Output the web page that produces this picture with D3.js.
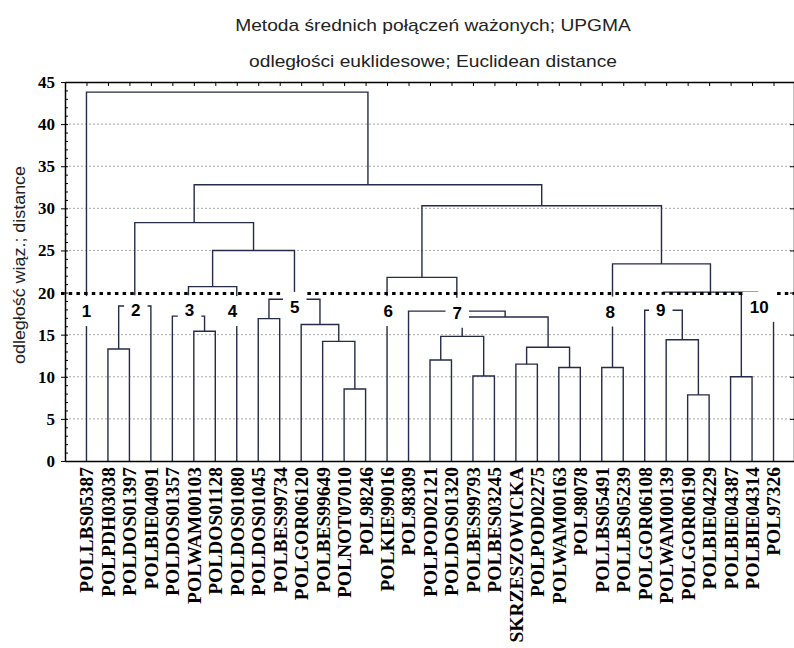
<!DOCTYPE html>
<html><head><meta charset="utf-8">
<script src="https://cdn.jsdelivr.net/npm/d3@7"></script>
<style>body{margin:0;background:#fff;} svg{display:block;}</style>
</head><body>
<svg id="chart" width="794" height="648"></svg>
<script>
// ---- data ----
const leafNames = ["POLLBS05387","POLPDH03038","POLDOS01397","POLBIE04091","POLDOS01357","POLWAM00103",
  "POLDOS01128","POLDOS01080","POLDOS01045","POLBES99734","POLGOR06120","POLBES99649","POLNOT07010",
  "POL98246","POLKIE99016","POL98309","POLPOD02121","POLDOS01320","POLBES99793","POLBES03245",
  "SKRZESZOWICKA","POLPOD02275","POLWAM00163","POL98078","POLLBS05491","POLLBS05239","POLGOR06108",
  "POLWAM00139","POLGOR06190","POLBIE04229","POLBIE04387","POLBIE04314","POL97326"];
// merges: ids 0..32 are leaves, id 33+k is the cluster made by merge k
const mergeLeft  = [28,12,30,18,22,24,20,16, 1,39,11,27,40, 5,10, 8,45, 4,15,26,41,48,35,52,50,14,57,38,53,58,61, 0];
const mergeRight = [29,13,31,19,23,25,21,17, 2,37,34,33,36, 6,43, 9,42,46,49,44, 3,47,32,55, 7,51,54,56,59,60,62,63];
const mergeHeight = [7.85,8.55,10.0,10.1,11.1,11.1,11.5,12.0,13.3,13.5,14.2,14.4,14.8,15.4,16.2,16.9,17.1,17.2,
  17.8,17.9,18.4,19.2,19.8,20.05,20.7,21.8,25.0,23.4,28.3,30.3,32.8,43.8];
const yTicks = [0,5,10,15,20,25,30,35,40,45];
const cutHeight = 20;
const clusterNames = ["1","2","3","4","5","6","7","8","9","10"];
const clusterAt    = [0, 2.3, 4.8, 6.8, 9.7, 14.05, 17.27, 24.4, 26.75, 31.33];
const clusterLevel = [17.8, 17.9, 17.9, 17.8, 18.3, 17.8, 17.6, 17.75, 17.95, 18.3];
const titleLines = ["Metoda średnich połączeń ważonych; UPGMA", "odległości euklidesowe; Euclidean distance"];
const yTitle = "odległość wiąz.; distance";

// ---- layout ----
const svg = d3.select("#chart");
const L = 65, R = 795, T = 82, B = 461;
const n = leafNames.length;
const x = d3.scalePoint().domain(d3.range(n)).range([L, R]).padding(1);
const xi = d3.scaleLinear().domain([0, n - 1]).range([x(0), x(n - 1)]);
const y = d3.scaleLinear().domain([0, 45]).range([B, T]);
const lineColor = "#262b4a";

// titles
svg.selectAll("text.title").data(titleLines).join("text")
  .attr("class", "title")
  .attr("transform", (d, i) => `translate(433,${30.5 + i * 36.5}) scale(1.2,1)`)
  .attr("text-anchor", "middle")
  .attr("font-family", "Liberation Sans, Arial, sans-serif")
  .attr("font-size", 16).attr("fill", "#222")
  .text(d => d);

// y title
svg.append("text")
  .attr("transform", `translate(25,265) rotate(-90) scale(1.12,1)`)
  .attr("text-anchor", "middle")
  .attr("font-family", "Liberation Sans, Arial, sans-serif")
  .attr("font-size", 16).attr("fill", "#222")
  .text(yTitle);

// gridlines
svg.append("g").selectAll("line").data(yTicks.filter(v => v > 0 && v < 45 && v !== cutHeight)).join("line")
  .attr("x1", L).attr("x2", R).attr("y1", d => y(d)).attr("y2", d => y(d))
  .attr("stroke", "#a8a8a8").attr("stroke-width", 1).attr("stroke-dasharray", "2,2");

// dendrogram
const nodeX = d3.range(n).map(i => x(i));
const nodeH = d3.range(n).map(() => 0);
const g = svg.append("g");
mergeHeight.forEach((h, k) => {
  const a = mergeLeft[k], b = mergeRight[k];
  const xa = nodeX[a], xb = nodeX[b];
  g.append("path")
    .attr("d", `M${xa},${y(nodeH[a])}V${y(h)}H${xb}V${y(nodeH[b])}`)
    .attr("fill", "none").attr("stroke", lineColor).attr("stroke-width", 1.4);
  nodeX.push((xa + xb) / 2);
  nodeH.push(h);
});

// cut line
svg.append("line")
  .attr("x1", L - 4).attr("x2", R).attr("y1", y(cutHeight) + 1).attr("y2", y(cutHeight) + 1)
  .attr("stroke", "#000").attr("stroke-width", 3).attr("stroke-dasharray", "3.5,4.2");

// axes
const axL = svg.append("g").attr("transform", `translate(${L},0)`)
  .call(d3.axisLeft(y).tickValues(yTicks).tickSize(4).tickSizeOuter(0));
axL.select(".domain").attr("stroke", "#000").attr("stroke-width", 1.5);
axL.selectAll("text").attr("x", -10)
  .attr("font-family", "Liberation Serif, Times New Roman, serif")
  .attr("font-weight", "bold").attr("font-size", 17).attr("fill", "#000");
svg.append("g").attr("transform", `translate(${L},0)`)
  .call(d3.axisRight(y).ticks(45).tickSize(3).tickSizeOuter(0).tickFormat(""))
  .select(".domain").remove();
const axR = svg.append("g").attr("transform", `translate(${R - 1},0)`)
  .call(d3.axisLeft(y).tickValues(yTicks).tickSize(4).tickSizeOuter(0).tickFormat(""));
axR.select(".domain").attr("stroke-width", 1.5);
const axT = svg.append("g").attr("transform", `translate(0,${T})`)
  .call(d3.axisBottom(x).tickSize(4).tickSizeOuter(0).tickFormat(""));
axT.select(".domain").attr("stroke-width", 1.5);
const axB = svg.append("g").attr("transform", `translate(0,${B})`)
  .call(d3.axisBottom(x).tickSize(0).tickSizeOuter(0).tickFormat(i => leafNames[i]));
axB.select(".domain").attr("stroke-width", 1.5);
axB.selectAll("text")
  .attr("transform", "rotate(-90)")
  .attr("x", -6).attr("y", 0).attr("dy", "0.33em")
  .attr("text-anchor", "end")
  .attr("font-family", "Liberation Serif, Times New Roman, serif")
  .attr("font-weight", "bold").attr("font-size", 19.5).attr("fill", "#000");

// cluster labels
const cl = svg.append("g").selectAll("g").data(clusterNames).join("g")
  .attr("transform", (d, i) => `translate(${xi(clusterAt[i])},${y(clusterLevel[i])})`);
cl.append("rect").attr("fill", "#fff");
cl.append("text")
  .attr("text-anchor", "middle").attr("dy", "0.36em")
  .attr("font-family", "Liberation Sans, Arial, sans-serif")
  .attr("font-weight", "bold").attr("font-size", 17).attr("fill", "#000")
  .text(d => d);
cl.each(function () {
  const t = d3.select(this).select("text").node().getBBox();
  d3.select(this).select("rect")
    .attr("x", -t.width / 2 - 7).attr("width", t.width + 14)
    .attr("y", -15).attr("height", 30);
});
</script>
</body></html>
